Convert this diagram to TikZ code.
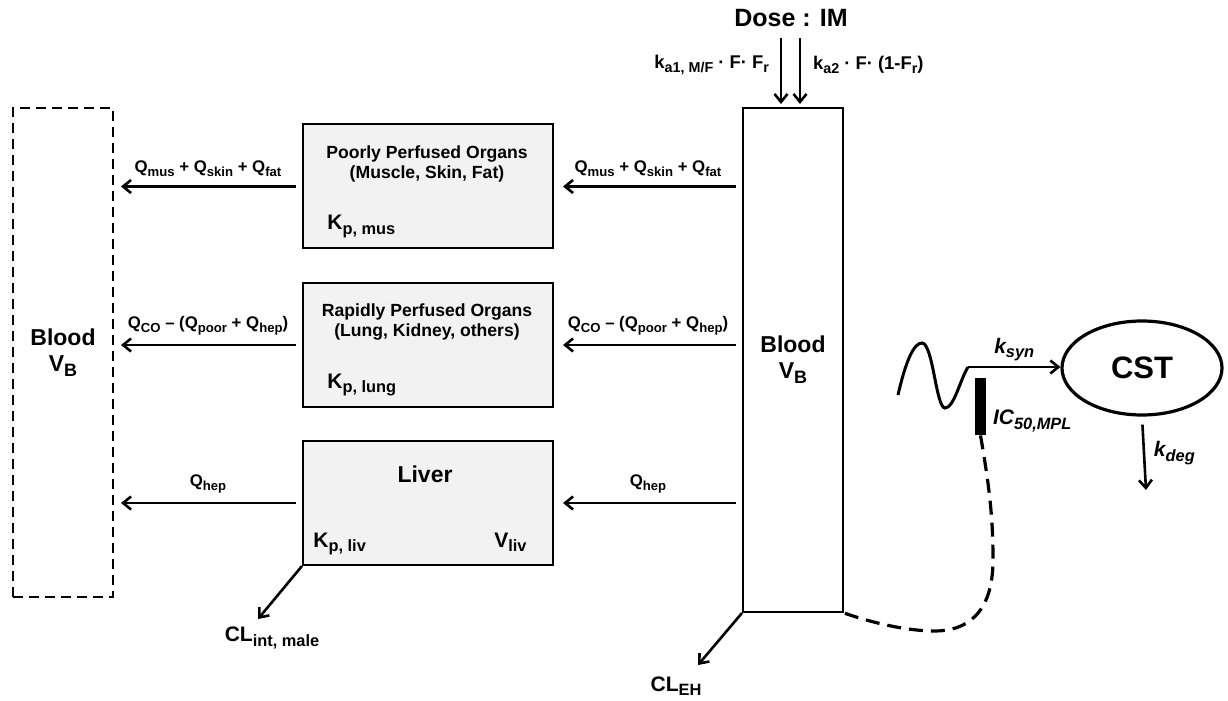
\documentclass[tikz,border=0pt]{standalone}
\usepackage{fontspec}
\setmainfont{Liberation Sans}
\usetikzlibrary{arrows.meta,shapes.geometric}
\newcommand{\lo}[1]{\raisebox{-0.22em}{\scalebox{0.78}{#1}}}

\begin{document}
\begin{tikzpicture}[x=0.5pt,y=-0.5pt,font=\bfseries,
organ/.style={draw,line width=1pt,fill=black!5,minimum width=125pt,minimum height=62pt},
pool/.style={draw,line width=1pt,minimum width=50pt,align=center,font=\bfseries\fontsize{11.5}{13}\selectfont},
arrow/.style={-{Straight Barb[length=4pt,width=6.5pt]},line width=1.3pt},
flow/.style={above=1pt,font=\bfseries\fontsize{8.4}{10}\selectfont},
title/.style={align=center,font=\bfseries\fontsize{8.8}{10}\selectfont},
param/.style={inner sep=0pt,font=\bfseries\fontsize{10.5}{12}\selectfont},
rate/.style={font=\bfseries\itshape\fontsize{10.5}{12}\selectfont},
dose/.style={font=\bfseries\fontsize{9.2}{11}\selectfont}
]
\useasboundingbox (0,0) rectangle (1228,701);

\node[pool,dash pattern=on 5pt off 3pt,minimum height=244.5pt] (bloodL) at (63,352.5) {Blood\\V\lo{B}};
\node[pool,minimum height=252pt] (bloodR) at (793,360) {Blood\\V\lo{B}};

\node[organ] (poor) at (428,186.5) {};
\node[organ] (rapid) at (428,345) {};
\node[organ] (liver) at (428,503) {};

\node[title] (poortitle) at (427,164) {Poorly Perfused Organs\\(Muscle, Skin, Fat)};
\node[param,anchor=base west] (kmus) at (327,230) {K\lo{p, mus}};
\node[title] (rapidtitle) at (427,322) {Rapidly Perfused Organs\\(Lung, Kidney, others)};
\node[param,anchor=base west] (klung) at (327,388) {K\lo{p, lung}};
\node[anchor=base,font=\bfseries\fontsize{11.5}{13}\selectfont] (livertitle) at (425,482) {Liver};
\node[param,anchor=base west] (kliv) at (313,547) {K\lo{p, liv}};
\node[param,anchor=base east] (vliv) at (527,547) {V\lo{liv}};

\draw[arrow,shorten <=3pt,shorten >=3.5pt] (poor.west) -- (bloodL.east |- poor.west) node[flow,midway] {Q\lo{mus} + Q\lo{skin} + Q\lo{fat}};
\draw[arrow,shorten <=3pt,shorten >=3.5pt] (rapid.west) -- (bloodL.east |- rapid.west) node[flow,midway] {Q\lo{CO} – (Q\lo{poor} + Q\lo{hep})};
\draw[arrow,shorten <=3pt,shorten >=3.5pt] (liver.west) -- (bloodL.east |- liver.west) node[flow,midway] {Q\lo{hep}};

\draw[arrow,shorten <=3pt,shorten >=4.5pt] (bloodR.west |- poor.east) -- (poor.east) node[flow,midway] {Q\lo{mus} + Q\lo{skin} + Q\lo{fat}};
\draw[arrow,shorten <=3pt,shorten >=4.5pt] (bloodR.west |- rapid.east) -- (rapid.east) node[flow,midway] {Q\lo{CO} – (Q\lo{poor} + Q\lo{hep})};
\draw[arrow,shorten <=3pt,shorten >=4.5pt] (bloodR.west |- liver.east) -- (liver.east) node[flow,midway] {Q\lo{hep}};

\node[anchor=base,font=\bfseries\fontsize{12.5}{14}\selectfont] (dose) at (791,27) {Dose : IM};
\draw[arrow,shorten <=2pt,shorten >=1.5pt] ([xshift=-5pt]dose.south) -- ([xshift=-5pt]dose.south |- bloodR.north);
\draw[arrow,shorten <=2pt,shorten >=1.5pt] ([xshift=4.5pt]dose.south) -- ([xshift=4.5pt]dose.south |- bloodR.north);
\node[dose,anchor=east] (ka1) at (776,65) {k\lo{a1, M/F} · F· F\lo{r}};
\node[dose,anchor=west] (ka2) at (806,65) {k\lo{a2} · F· (1-F\lo{r})};

\coordinate (ehend) at (698,665);
\coordinate (intend) at (258,619);
\draw[arrow] (bloodR.south west) -- (ehend);
\draw[arrow] (liver.south west) -- (intend);
\node[param,anchor=center] (cleh) at (676,686) {CL\lo{EH}};
\node[param,anchor=center] (clint) at (272,638) {CL\lo{int, male}};

\node[draw,ellipse,line width=1.6pt,minimum width=80pt,minimum height=47pt,inner sep=0pt,font=\bfseries\fontsize{15.5}{17}\selectfont] (cst) at (1142,368) {CST};
\node[fill=black,inner sep=0pt,minimum width=5.5pt,minimum height=28.5pt] (ic) at (980.5,406.5) {};
\node[rate,anchor=west] (iclabel) at (986,421) {IC\lo{50,MPL}};

\coordinate (wavestart) at (898,395);
\coordinate (waveend) at (968,367);
\draw[line width=1.5pt] (wavestart) .. controls (906,360) and (914,343) .. (922,343) .. controls (933,343) and (936,408) .. (945,408) .. controls (954,408) and (960,380) .. (waveend);
\draw[arrow] (waveend) -- (cst.west |- waveend) node[rate,midway,above=-1pt] {k\lo{syn}};

\coordinate (degend) at (1146,490);
\draw[arrow,shorten <=4pt] (cst.south) -- (degend) node[rate,midway,right=1pt] {k\lo{deg}};

\draw[line width=1.6pt,dash pattern=on 7pt off 4pt] (ic.south) .. controls (990,490) and (993,520) .. (993,560) .. controls (993,615) and (965,631) .. (935,631) .. controls (905,631) and (870,622) .. (bloodR.south east);
\end{tikzpicture}
\end{document}
